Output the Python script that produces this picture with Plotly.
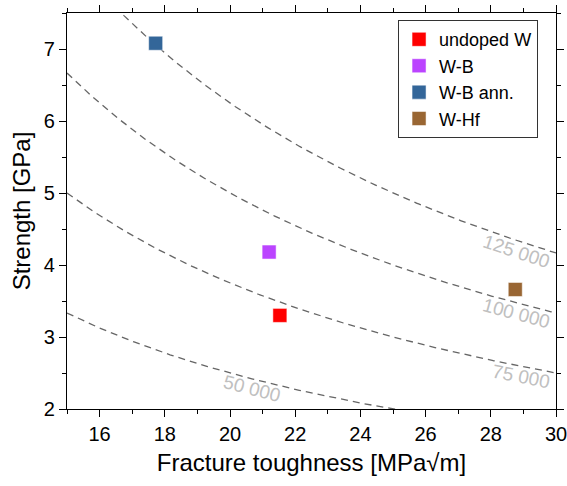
import numpy as np
import plotly.graph_objects as go

# Data
materials = ["undoped W", "W-B", "W-B ann.", "W-Hf"]
toughness = [21.53, 21.2, 17.72, 28.75]   # MPa√m
strength = [3.3, 4.18, 7.08, 3.66]        # GPa
colors = ["#ff0000", "#bb44ff", "#336699", "#996633"]

# iso-product curves (MPa * MPa√m)
iso_levels = [50000, 75000, 100000, 125000]
iso_labels = ["50 000", "75 000", "100 000", "125 000"]
iso_label_x = [20.67, 28.94, 28.8, 28.79]
iso_label_y = [2.29, 2.45, 3.33, 4.185]

fig = go.Figure()

xs = np.linspace(15, 30, 300)
for C in iso_levels:
    ys = C / 1000.0 / xs
    fig.add_trace(go.Scatter(x=xs, y=ys, mode="lines",
                             line=dict(color="#666666", width=1.3, dash="7px,5px"),
                             showlegend=False, hoverinfo="skip"))

for m, x, y, c in zip(materials, toughness, strength, colors):
    fig.add_trace(go.Scatter(x=[x], y=[y], mode="markers", name=m,
                             marker=dict(symbol="square", size=14, color=c,
                                         line=dict(color="rgba(255,255,255,0.5)", width=1))))

for lab, lx, ly, C in zip(iso_labels, iso_label_x, iso_label_y, iso_levels):
    slope = -C / 1000.0 / lx**2
    ang = np.degrees(np.arctan(slope * 72 / 32.6))
    fig.add_annotation(x=lx, y=ly, text=lab, showarrow=False,
                       textangle=-ang, font=dict(size=19, color="#c0c0c0",
                                                family="Liberation Sans, Arial, sans-serif"))

axis_common = dict(showline=True, linecolor="black", linewidth=1.3, mirror="allticks",
                   ticks="outside", ticklen=7, tickwidth=1.3, tickcolor="black",
                   showgrid=False, zeroline=False, automargin=False,
                   ticklabeloverflow="allow",
                   tickfont=dict(size=20, color="black"))

fig.update_xaxes(range=[15, 30], dtick=2, tick0=16,
                 minor=dict(dtick=1, tick0=15, ticks="outside", ticklen=4, tickwidth=1.3, tickcolor="black"),
                 title=dict(text="Fracture toughness [MPa√m]", font=dict(size=24, color="black"), standoff=10),
                 **axis_common)
fig.update_yaxes(range=[2, 7.5], dtick=1, tick0=2,
                 minor=dict(dtick=0.5, tick0=2, ticks="outside", ticklen=4, tickwidth=1.3, tickcolor="black"),
                 title=dict(text="Strength [GPa]", font=dict(size=24, color="black"), standoff=6),
                 **axis_common)

fig.update_layout(width=567, height=486,
                  margin=dict(l=67, r=11, t=13, b=77),
                  paper_bgcolor="white", plot_bgcolor="white",
                  font=dict(family="Liberation Sans, Arial, sans-serif", color="black"),
                  legend=dict(x=0.677, y=0.982, xanchor="left", yanchor="top",
                              bgcolor="white", bordercolor="#333333", borderwidth=1,
                              font=dict(size=18), itemsizing="trace",
                              tracegroupgap=0))

fig.write_html("out.html")
